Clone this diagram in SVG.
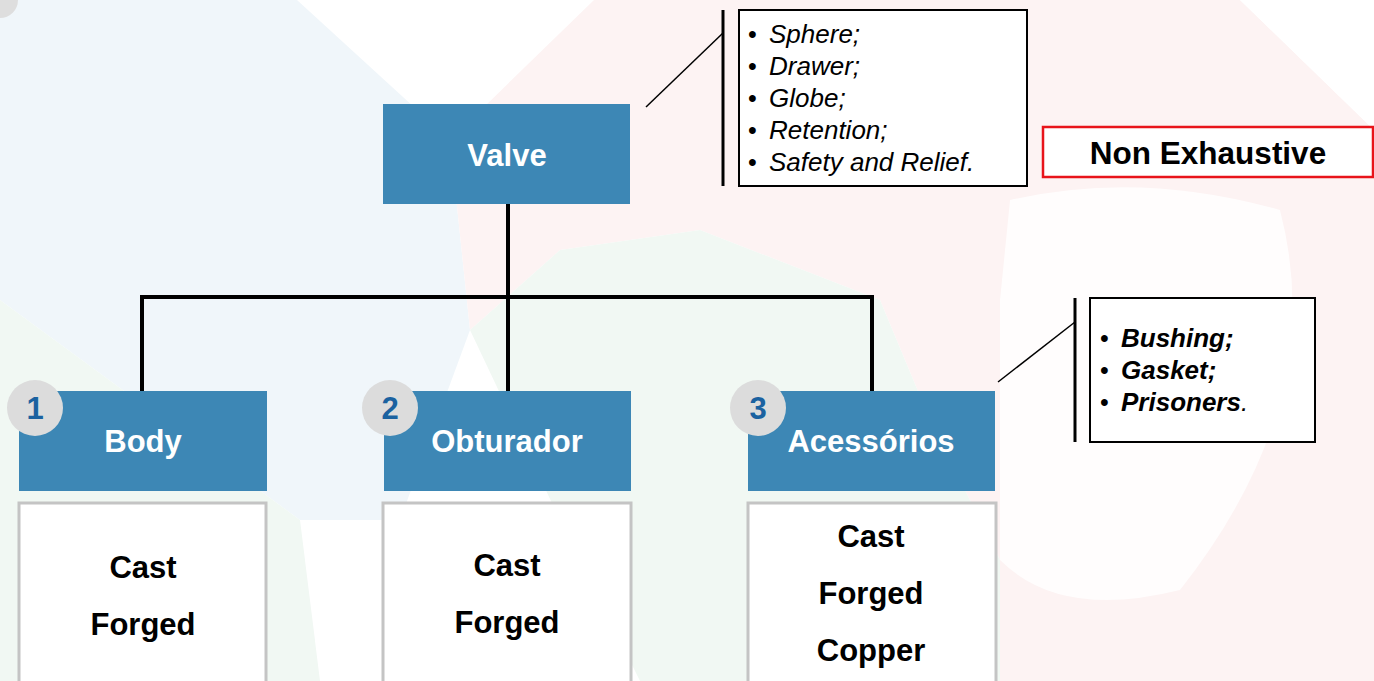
<svg xmlns="http://www.w3.org/2000/svg" width="1374" height="681" viewBox="0 0 1374 681">
<style>
.blue{fill:#3d87b5}
.hdr{font-family:"Liberation Sans",Arial,sans-serif;font-weight:bold;font-size:31px;fill:#ffffff;text-anchor:middle}
.item{font-family:"Liberation Sans",Arial,sans-serif;font-weight:bold;font-size:31px;fill:#000;text-anchor:middle}
.wbox{fill:#ffffff;stroke:#c4c4c4;stroke-width:3}
.num{fill:#dcdcdc}
.numt{font-family:"Liberation Sans",Arial,sans-serif;font-weight:bold;font-size:31px;fill:#1b62a0;text-anchor:middle}
.list{font-family:"Liberation Sans",Arial,sans-serif;font-style:italic;font-size:26px;fill:#000}
.listb{font-family:"Liberation Sans",Arial,sans-serif;font-style:italic;font-weight:bold;font-size:26px;fill:#000}
.bul{font-family:"Liberation Sans",Arial,sans-serif;font-size:25px;fill:#000}
.conn{fill:none;stroke:#000;stroke-width:4}
.thin{fill:none;stroke:#000;stroke-width:1.5}
.bar{fill:none;stroke:#000;stroke-width:3}
</style>
<rect width="1374" height="681" fill="#ffffff"/>
<g id="background">
<path d="M0 0 H297 L450 140 L470 330 L400 520 L300 520 L0 300 Z" fill="#f0f6fa"/>
<path d="M0 300 L300 520 L320 681 H0 Z" fill="#f1f8f3"/>
<path d="M594 0 H1240 L1374 130 V681 H1000 V560 L930 420 L880 300 L700 230 L560 250 L470 330 L450 140 Z" fill="#fdf3f3"/>
<path d="M560 250 L700 230 L880 300 L930 420 L1000 560 V681 H640 L560 520 L470 330 Z" fill="#f1f8f3"/>
<path d="M1010 200 Q1140 170 1280 210 Q1330 400 1180 590 Q1060 620 1000 560 L1000 300 Z" fill="#ffffff" opacity="0.8"/>
<path d="M1240 0 H1374 V130 Z" fill="#ffffff"/>
<circle cx="0" cy="0" r="18" fill="#dedede"/>
</g>
<g id="connectors">
<path class="conn" d="M508 204 V297 M142 391 V297 H872 V391 M508 297 V391"/>
<line class="thin" x1="646" y1="107" x2="723" y2="33"/>
<line class="bar" x1="723" y1="10" x2="723" y2="186"/>
<line class="thin" x1="998" y1="382" x2="1075" y2="322"/>
<line class="bar" x1="1075" y1="298" x2="1075" y2="442"/>
</g>
<g id="valve">
<rect class="blue" x="383" y="104" width="247" height="100"/>
<text class="hdr" x="507" y="166">Valve</text>
</g>
<g id="valve-types">
<rect x="739" y="10" width="288" height="176" fill="#ffffff" stroke="#000" stroke-width="2"/>
<text class="bul" x="748" y="43">•</text><text class="list" x="769" y="43">Sphere;</text>
<text class="bul" x="748" y="75">•</text><text class="list" x="769" y="75">Drawer;</text>
<text class="bul" x="748" y="107">•</text><text class="list" x="769" y="107">Globe;</text>
<text class="bul" x="748" y="139">•</text><text class="list" x="769" y="139">Retention;</text>
<text class="bul" x="748" y="171">•</text><text class="list" x="769" y="171">Safety and Relief.</text>
</g>
<g id="non-exhaustive">
<rect x="1043" y="127" width="330" height="50" fill="#ffffff" stroke="#e8141a" stroke-width="2.5"/>
<text x="1208" y="164" font-family="Liberation Sans,Arial,sans-serif" font-weight="bold" font-size="31.5" text-anchor="middle">Non Exhaustive</text>
</g>
<g id="body">
<rect class="blue" x="19" y="391" width="248" height="100"/>
<text class="hdr" x="143" y="452">Body</text>
<circle class="num" cx="35" cy="408" r="28"/>
<text class="numt" x="35" y="419">1</text>
<rect class="wbox" x="19" y="503" width="247" height="190"/>
<text class="item" x="143" y="578">Cast</text>
<text class="item" x="143" y="635">Forged</text>
</g>
<g id="obturador">
<rect class="blue" x="384" y="391" width="247" height="100"/>
<text class="hdr" x="507" y="452">Obturador</text>
<circle class="num" cx="390" cy="408" r="28"/>
<text class="numt" x="390" y="419">2</text>
<rect class="wbox" x="383" y="503" width="248" height="190"/>
<text class="item" x="507" y="576">Cast</text>
<text class="item" x="507" y="633">Forged</text>
</g>
<g id="acessorios">
<rect class="blue" x="748" y="391" width="247" height="100"/>
<text class="hdr" x="871" y="452">Acessórios</text>
<circle class="num" cx="758" cy="408" r="28"/>
<text class="numt" x="758" y="419">3</text>
<rect class="wbox" x="748" y="503" width="248" height="190"/>
<text class="item" x="871" y="547">Cast</text>
<text class="item" x="871" y="604">Forged</text>
<text class="item" x="871" y="661">Copper</text>
</g>
<g id="accessory-types">
<rect x="1090" y="298" width="225" height="144" fill="#ffffff" stroke="#000" stroke-width="2"/>
<text class="bul" x="1100" y="347">•</text><text class="listb" x="1121" y="347">Bushing;</text>
<text class="bul" x="1100" y="379">•</text><text class="listb" x="1121" y="379">Gasket;</text>
<text class="bul" x="1100" y="411">•</text><text class="listb" x="1121" y="411">Prisoners<tspan font-weight="normal">.</tspan></text>
</g>
</svg>
